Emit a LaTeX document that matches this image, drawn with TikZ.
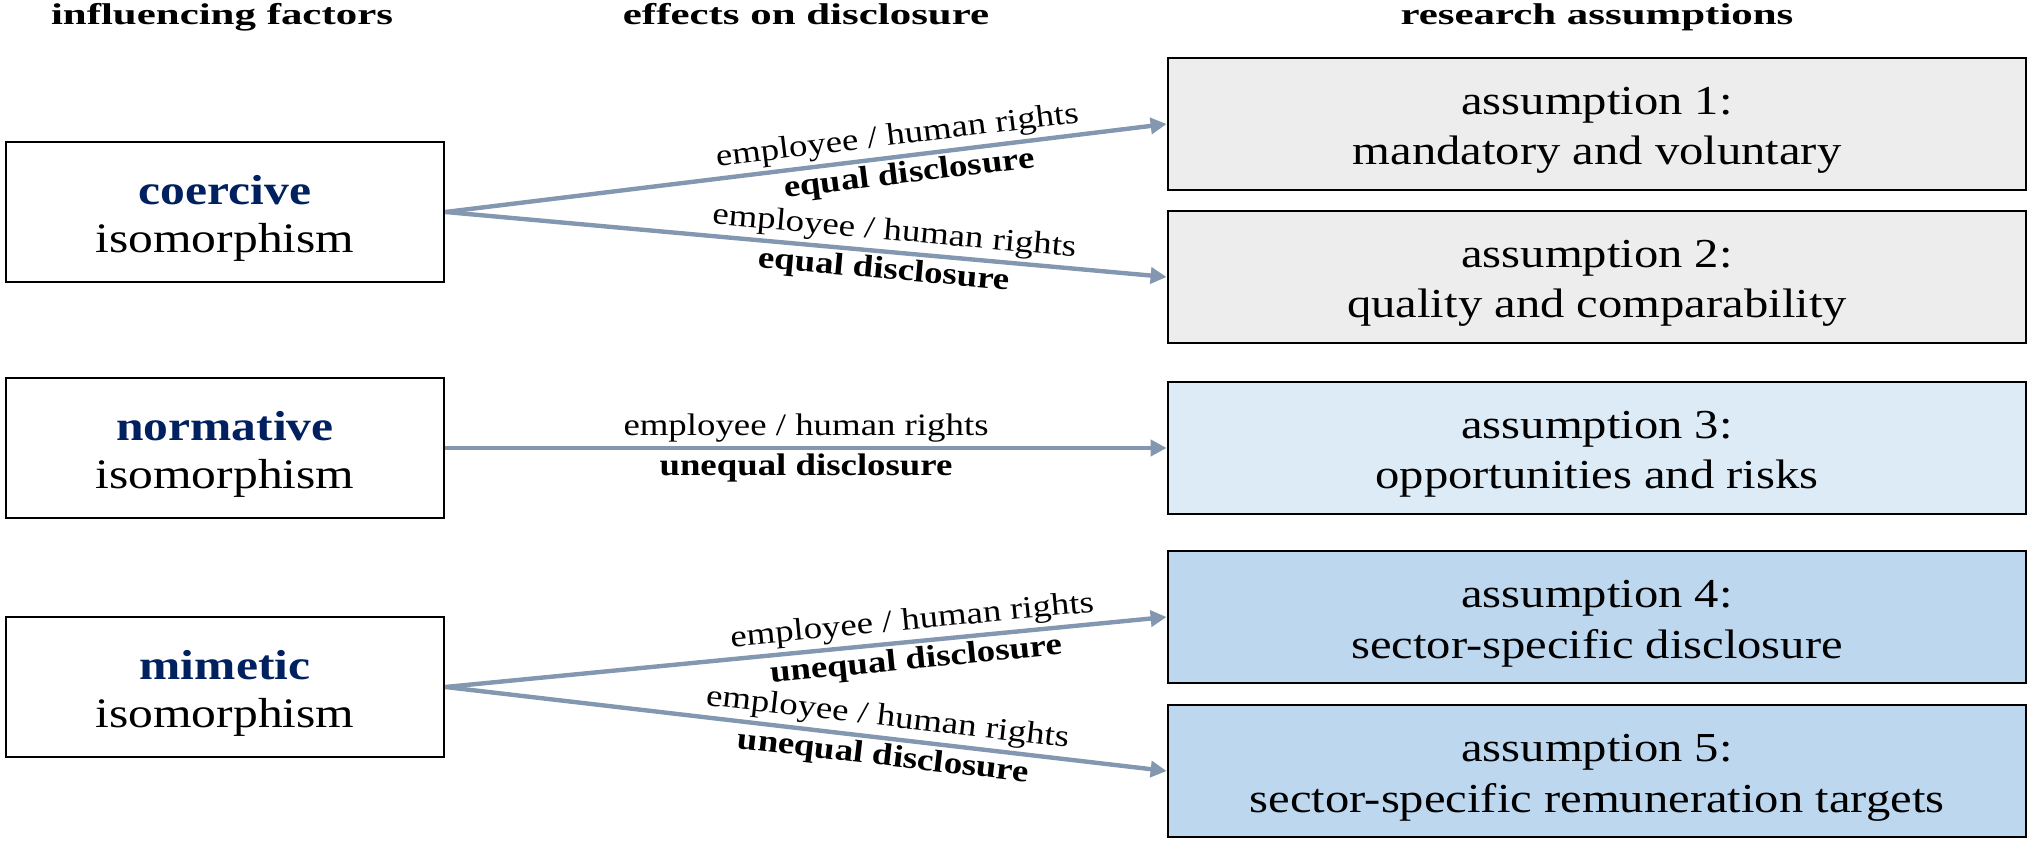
\documentclass[tikz,border=0pt]{standalone}
\usepackage{fontspec}
\setmainfont[FakeStretch=1.18]{Liberation Serif}
\newfontfamily\headfont[FakeStretch=1.43]{Liberation Serif}
\usepackage{xcolor}
\usepackage{tikz}
\usetikzlibrary{arrows.meta, positioning}

\definecolor{navy}{HTML}{002060}
\definecolor{arrowgray}{HTML}{8497B0}
\definecolor{boxgray}{HTML}{EDEDED}
\definecolor{lightblue}{HTML}{DDEBF7}
\definecolor{midblue}{HTML}{BDD7EE}

\begin{document}
\begin{tikzpicture}[
  x=0.25pt, y=-0.25pt,
  factor/.style={rectangle, draw, line width=0.7pt, fill=white, minimum width=109.5pt, minimum height=35pt, align=center, inner sep=1pt, text height=22.8pt, text depth=2.3pt, font=\fontsize{10.5}{12}\selectfont},
  assume/.style={rectangle, draw, line width=0.7pt, minimum width=214.5pt, minimum height=33pt, align=center, inner sep=1pt, text height=22.8pt, text depth=2.3pt, font=\fontsize{10.3}{12.7}\selectfont},
  head/.style={font=\headfont\fontsize{7.5}{9}\selectfont\bfseries, inner sep=0pt, anchor=base},
  effect/.style={-{Triangle[length=4pt, width=4pt]}, draw=arrowgray, line width=1.1pt},
  lbl/.style={font=\fontsize{7.8}{9}\selectfont, sloped, inner sep=0.8pt}
]
\useasboundingbox (0,0) rectangle (2029,842);

% column headings
\node[head] (h1) at (222,25) {influencing factors};
\node[head] (h2) at (806,25) {effects on disclosure};
\node[head] (h3) at (1597,25) {research assumptions};

% influencing factors
\node[factor] (coercive) at (225,212) {\textcolor{navy}{\textbf{coercive}}\\isomorphism};
\node[factor] (normative) at (225,448) {\textcolor{navy}{\textbf{normative}}\\isomorphism};
\node[factor] (mimetic) at (225,687) {\textcolor{navy}{\textbf{mimetic}}\\isomorphism};

% research assumptions
\node[assume, fill=boxgray] (as1) at (1597,124) {assumption 1:\\mandatory and voluntary};
\node[assume, fill=boxgray] (as2) at (1597,277) {assumption 2:\\quality and comparability};
\node[assume, fill=lightblue] (as3) at (1597,448) {assumption 3:\\opportunities and risks};
\node[assume, fill=midblue] (as4) at (1597,617) {assumption 4:\\sector-specific disclosure};
\node[assume, fill=midblue] (as5) at (1597,771) {assumption 5:\\sector-specific remuneration targets};

% effects
\draw[effect] (coercive.east) -- (as1.west)
  node[lbl, above, pos=0.63] {employee / human rights}
  node[lbl, below, pos=0.64] {\textbf{equal disclosure}};
\draw[effect] (coercive.east) -- (as2.west)
  node[lbl, above, pos=0.62] {employee / human rights}
  node[lbl, below, pos=0.61] {\textbf{equal disclosure}};
\draw[effect] (normative.east) -- (as3.west)
  node[lbl, above, pos=0.5] {employee / human rights}
  node[lbl, below, pos=0.5] {\textbf{unequal disclosure}};
\draw[effect] (mimetic.east) -- (as4.west)
  node[lbl, above, pos=0.65] {employee / human rights}
  node[lbl, below, pos=0.65] {\textbf{unequal disclosure}};
\draw[effect] (mimetic.east) -- (as5.west)
  node[lbl, above, pos=0.61] {employee / human rights}
  node[lbl, below, pos=0.61] {\textbf{unequal disclosure}};
\end{tikzpicture}
\end{document}
